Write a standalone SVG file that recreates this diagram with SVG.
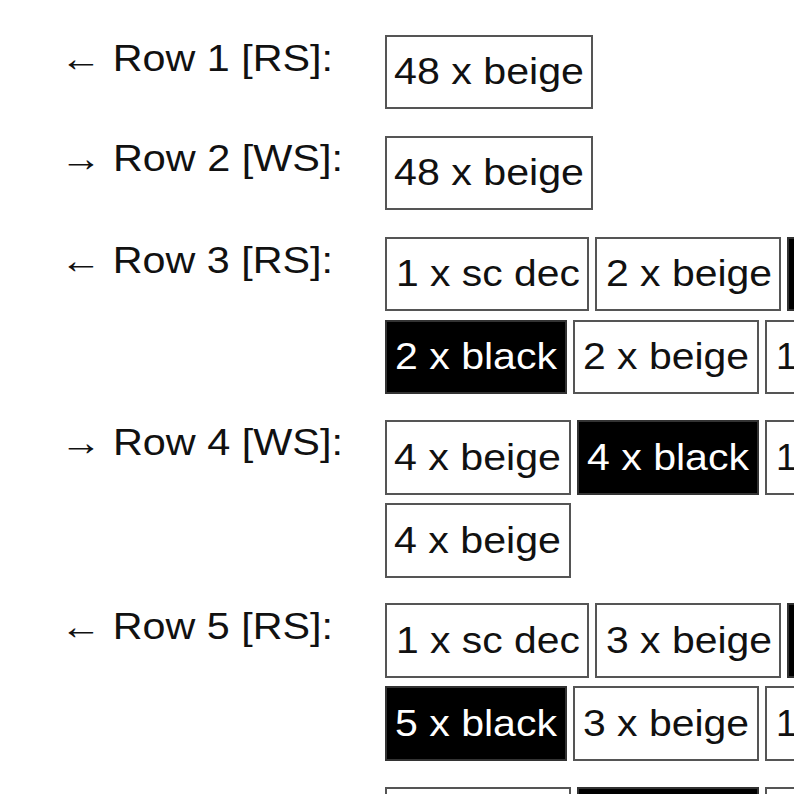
<svg xmlns="http://www.w3.org/2000/svg" width="794" height="794" viewBox="0 0 794 794">
<style>
text{font-family:"Liberation Sans",Arial,sans-serif;font-size:37px}
.w{fill:#fff;stroke:#555;stroke-width:2}
.b{fill:#000;stroke:#333;stroke-width:2}
.tw{fill:#111}
.tb{fill:#fff}
</style>
<rect width="794" height="794" fill="#fff"/>
<g id="labels" class="tw">
<text x="60" y="71" textLength="273" lengthAdjust="spacingAndGlyphs">← Row 1 [RS]:</text>
<text x="60" y="171" textLength="283" lengthAdjust="spacingAndGlyphs">→ Row 2 [WS]:</text>
<text x="60" y="273" textLength="273" lengthAdjust="spacingAndGlyphs">← Row 3 [RS]:</text>
<text x="60" y="455" textLength="283" lengthAdjust="spacingAndGlyphs">→ Row 4 [WS]:</text>
<text x="60" y="639" textLength="273" lengthAdjust="spacingAndGlyphs">← Row 5 [RS]:</text>
</g>
<g id="connectors"/>
<g id="row1"><rect class="w" x="386" y="36" width="206" height="72"/><text class="tw" x="394" y="84" textLength="190" lengthAdjust="spacingAndGlyphs">48 x beige</text></g>
<g id="row2"><rect class="w" x="386" y="137" width="206" height="72"/><text class="tw" x="394" y="185" textLength="190" lengthAdjust="spacingAndGlyphs">48 x beige</text></g>
<g id="row3">
<rect class="w" x="386" y="238" width="202" height="72"/><text class="tw" x="396" y="286" textLength="184" lengthAdjust="spacingAndGlyphs">1 x sc dec</text>
<rect class="w" x="596" y="238" width="184" height="72"/><text class="tw" x="606" y="286" textLength="166" lengthAdjust="spacingAndGlyphs">2 x beige</text>
<rect class="b" x="788" y="238" width="40" height="72"/>
<rect class="b" x="386" y="321" width="180" height="72"/><text class="tb" x="395" y="369" textLength="162" lengthAdjust="spacingAndGlyphs">2 x black</text>
<rect class="w" x="574" y="321" width="184" height="72"/><text class="tw" x="583" y="369" textLength="166" lengthAdjust="spacingAndGlyphs">2 x beige</text>
<rect class="w" x="766" y="321" width="200" height="72"/><text class="tw" x="776" y="369">1</text>
</g>
<g id="row4">
<rect class="w" x="386" y="421" width="184" height="73"/><text class="tw" x="394" y="470" textLength="167" lengthAdjust="spacingAndGlyphs">4 x beige</text>
<rect class="b" x="578" y="421" width="180" height="73"/><text class="tb" x="587" y="470" textLength="162" lengthAdjust="spacingAndGlyphs">4 x black</text>
<rect class="w" x="766" y="421" width="200" height="73"/><text class="tw" x="776" y="470">1</text>
<rect class="w" x="386" y="504" width="184" height="73"/><text class="tw" x="394" y="553" textLength="167" lengthAdjust="spacingAndGlyphs">4 x beige</text>
</g>
<g id="row5">
<rect class="w" x="386" y="604" width="202" height="73"/><text class="tw" x="396" y="653" textLength="184" lengthAdjust="spacingAndGlyphs">1 x sc dec</text>
<rect class="w" x="596" y="604" width="184" height="73"/><text class="tw" x="606" y="653" textLength="166" lengthAdjust="spacingAndGlyphs">3 x beige</text>
<rect class="b" x="788" y="604" width="40" height="73"/>
<rect class="b" x="386" y="687" width="180" height="73"/><text class="tb" x="395" y="736" textLength="162" lengthAdjust="spacingAndGlyphs">5 x black</text>
<rect class="w" x="574" y="687" width="184" height="73"/><text class="tw" x="583" y="736" textLength="166" lengthAdjust="spacingAndGlyphs">3 x beige</text>
<rect class="w" x="766" y="687" width="200" height="73"/><text class="tw" x="776" y="736">1</text>
</g>
<g id="row6">
<rect class="w" x="386" y="788" width="184" height="73"/>
<rect class="b" x="578" y="788" width="180" height="73"/>
<rect class="w" x="766" y="788" width="200" height="73"/>
</g>
</svg>
